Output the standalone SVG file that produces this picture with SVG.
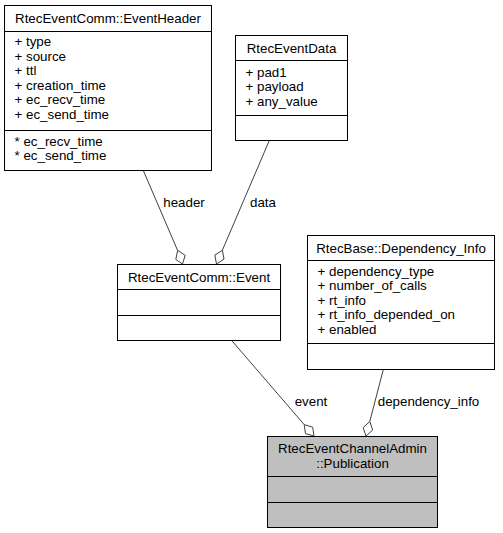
<svg xmlns="http://www.w3.org/2000/svg" width="503" height="533" viewBox="0 0 503 533">
<style>
  .box { fill: #ffffff; stroke: #000000; stroke-width: 1; }
  .main { fill: #bfbfbf; stroke: #000000; stroke-width: 1; }
  .sep { stroke: #000000; stroke-width: 1; fill: none; }
  .edge { stroke: #404040; stroke-width: 1; fill: none; }
  .dia { fill: #ffffff; stroke: #404040; stroke-width: 1; }
  text { font-family: "Liberation Sans", Arial, Helvetica, sans-serif; font-size: 13.33px; fill: #000000; }
  .c { text-anchor: middle; }
</style>
<rect width="503" height="533" fill="#ffffff"/>

<g id="connectors">
  <g id="edge-header">
    <path class="edge" d="M143.3,170.5 L177.6,250.4"/>
    <polygon class="dia" points="182.5,264 185.2,255.3 177.6,250.4 175.8,259.5"/>
    <text class="c" x="184" y="206.5">header</text>
  </g>
  <g id="edge-data">
    <path class="edge" d="M269.3,140.5 L222.4,250.2"/>
    <polygon class="dia" points="216.5,264 224,259.1 222.4,250.2 214.8,255.1"/>
    <text class="c" x="263" y="206.5">data</text>
  </g>
  <g id="edge-event">
    <path class="edge" d="M231.7,340.5 L304.2,424.6"/>
    <polygon class="dia" points="314,436 312.7,427.2 304.2,424.6 305.5,433.7"/>
    <text class="c" x="311" y="405.5">event</text>
  </g>
  <g id="edge-dependency">
    <path class="edge" d="M383.3,369.5 L369.8,421.5"/>
    <polygon class="dia" points="366,436 372.7,430 369.8,421.5 363.1,427.6"/>
    <text class="c" x="428.5" y="405.5">dependency_info</text>
  </g>
</g>

<g id="node-EventHeader">
  <rect class="box" x="4.5" y="5.5" width="207" height="165"/>
  <line class="sep" x1="4.5" y1="31.5" x2="211.5" y2="31.5"/>
  <line class="sep" x1="4.5" y1="130.5" x2="211.5" y2="130.5"/>
  <text class="c" x="108" y="22.5">RtecEventComm::EventHeader</text>
  <text x="14.5" y="46">+ type</text>
  <text x="14.5" y="60.5">+ source</text>
  <text x="14.5" y="75">+ ttl</text>
  <text x="14.5" y="89.5">+ creation_time</text>
  <text x="14.5" y="104">+ ec_recv_time</text>
  <text x="14.5" y="118.5">+ ec_send_time</text>
  <text x="14.5" y="145.5">* ec_recv_time</text>
  <text x="14.5" y="160">* ec_send_time</text>
</g>

<g id="node-EventData">
  <rect class="box" x="235.5" y="35.5" width="112" height="105"/>
  <line class="sep" x1="235.5" y1="60.5" x2="347.5" y2="60.5"/>
  <line class="sep" x1="235.5" y1="115.5" x2="347.5" y2="115.5"/>
  <text class="c" x="291.5" y="52.5">RtecEventData</text>
  <text x="245.5" y="76.5">+ pad1</text>
  <text x="245.5" y="91">+ payload</text>
  <text x="245.5" y="105.5">+ any_value</text>
</g>

<g id="node-Event">
  <rect class="box" x="117.5" y="264.5" width="163" height="76"/>
  <line class="sep" x1="117.5" y1="289.5" x2="280.5" y2="289.5"/>
  <line class="sep" x1="117.5" y1="315.5" x2="280.5" y2="315.5"/>
  <text class="c" x="199" y="281.5">RtecEventComm::Event</text>
</g>

<g id="node-DependencyInfo">
  <rect class="box" x="307.5" y="235.5" width="187" height="134"/>
  <line class="sep" x1="307.5" y1="260.5" x2="494.5" y2="260.5"/>
  <line class="sep" x1="307.5" y1="343.5" x2="494.5" y2="343.5"/>
  <text class="c" x="401" y="252.5">RtecBase::Dependency_Info</text>
  <text x="317.5" y="275.5">+ dependency_type</text>
  <text x="317.5" y="290">+ number_of_calls</text>
  <text x="317.5" y="304.5">+ rt_info</text>
  <text x="317.5" y="319">+ rt_info_depended_on</text>
  <text x="317.5" y="333.5">+ enabled</text>
</g>

<g id="node-Publication">
  <rect class="main" x="267.5" y="436.5" width="170" height="91"/>
  <line class="sep" x1="267.5" y1="476.5" x2="437.5" y2="476.5"/>
  <line class="sep" x1="267.5" y1="502.5" x2="437.5" y2="502.5"/>
  <text class="c" x="352.5" y="453">RtecEventChannelAdmin</text>
  <text class="c" x="352.5" y="467.5">::Publication</text>
</g>
</svg>
